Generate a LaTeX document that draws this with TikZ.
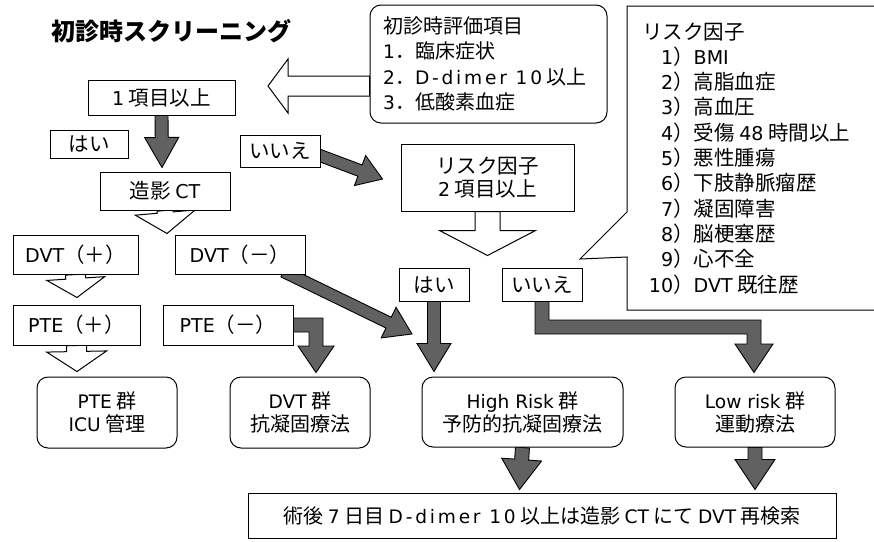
\documentclass[tikz,border=0pt]{standalone}
\usepackage{fontspec}
\setmainfont{Noto Sans CJK JP}
\newfontfamily\latfont{DejaVu Sans}[Scale=0.93]
\newfontfamily\latwide{DejaVu Sans}[Scale=0.93,LetterSpace=15]
\newcommand\la[1]{{\latfont #1}}
\newcommand\lw[1]{{\latwide #1}}
\usetikzlibrary{calc}
\pgfdeclarelayer{bg}
\pgfsetlayers{bg,main}
\newcommand\fsz[2]{\fontsize{#1}{#2}\selectfont}
% #1 style, #2 start, #3 tip, #4 shaft half width, #5 head half width, #6 head length
\newcommand\fatarrow[6][]{%
  \coordinate (fab) at ($(#3)!#6!(#2)$);
  \path[#1] ($(#2)!#4!90:(#3)$) -- ($(fab)!#4!90:(#3)$) -- ($(fab)!#5!90:(#3)$) -- (#3)
     -- ($(fab)!#5!-90:(#3)$) -- ($(fab)!#4!-90:(#3)$) -- ($(#2)!#4!-90:(#3)$) -- cycle;
}
\tikzset{
  box/.style={draw, line width=1pt, fill=white, inner sep=0pt, font=\fsz{20.5}{24}, align=center},
  rbox/.style={box, rounded corners=11pt},
  dark/.style={draw=black, line width=0.9pt, fill=black!62, line join=miter},
  hollow/.style={draw=black, line width=1pt, fill=white, line join=miter},
  ltext/.style={font=\fsz{20}{24}, inner sep=0pt, anchor=base west},
}
\begin{document}
\begin{tikzpicture}[x=1pt,y=-1pt]
\useasboundingbox (0,0) rectangle (874,541);

% title
\node[font=\fsz{24}{28}\bfseries, inner sep=0pt] (title) at (171,31) {初診時スクリーニング};

% evaluation callout
\node[rbox, minimum width=237pt, minimum height=118pt] (eval) at (488.5,64) {};
\node[ltext] (ev0) at (383,33) {初診時評価項目};
\node[ltext] (ev1) at (383,58.5) {\la{1}．臨床症状};
\node[ltext] (ev2) at (383,84) {\la{2}．\lw{D-dimer 10} 以上};
\node[ltext] (ev3) at (383,109.5) {\la{3}．低酸素血症};

% risk factor callout
\draw[line width=1pt] (874,6) -- (627,6) -- (627,212) -- (580,259) -- (627,257) -- (627,310) -- (874,310);
\node[ltext, font=\fsz{20.5}{24}] (rf0) at (642,39) {リスク因子};
\foreach \n/\t [count=\i] in {1/{\la{BMI}},2/高脂血症,3/高血圧,4/{受傷 \la{48} 時間以上},5/悪性腫瘍,6/下肢静脈瘤歴,7/凝固障害,8/脳梗塞歴,9/心不全,10/{\la{DVT} 既往歴}}{
  \node[ltext, font=\fsz{20.5}{24}] (rf\i) at (642,{39+25.3*\i}) {\makebox[31pt][r]{\la{\n}}）\t};
}

% boxes
\node[box, minimum width=147pt, minimum height=35pt] (one) at (161.5,97.5) {\la{1} 項目以上};
\node[box, minimum width=78pt, minimum height=28pt] (hai1) at (89,144) {はい};
\node[box, minimum width=80pt, minimum height=32pt] (iie1) at (280,151) {いいえ};
\node[box, minimum width=130pt, minimum height=38pt] (ct) at (165,191) {造影 \la{CT}};
\node[box, minimum width=173pt, minimum height=67pt, font=\fsz{20.5}{23}] (risk2) at (487.5,177.5) {リスク因子\\\la{2} 項目以上};
\node[box, minimum width=125pt, minimum height=39pt] (dvtp) at (75.5,254.5) {\la{DVT}（＋）};
\node[box, minimum width=130pt, minimum height=39pt] (dvtn) at (240,254.5) {\la{DVT}（－）};
\node[box, minimum width=127pt, minimum height=40pt] (ptep) at (76.5,325) {\la{PTE}（＋）};
\node[box, minimum width=130pt, minimum height=40pt] (pten) at (228,325) {\la{PTE}（－）};
\node[box, minimum width=70pt, minimum height=33pt] (hai2) at (434,284.5) {はい};
\node[box, minimum width=80pt, minimum height=33pt] (iie2) at (542,284.5) {いいえ};
\node[rbox, minimum width=140pt, minimum height=71pt, font=\fsz{20}{23}] (ptegrp) at (107,412.5) {\la{PTE} 群\\\la{ICU} 管理};
\node[rbox, minimum width=140pt, minimum height=71pt, font=\fsz{20}{23}] (dvtgrp) at (300,412.5) {\la{DVT} 群\\抗凝固療法};
\node[rbox, minimum width=201pt, minimum height=70pt, font=\fsz{20}{23}] (hrgrp) at (522.5,412) {\la{High Risk} 群\\予防的抗凝固療法};
\node[rbox, minimum width=160pt, minimum height=70pt, font=\fsz{20}{23}] (lrgrp) at (755,412) {\la{Low risk} 群\\運動療法};
\node[box, minimum width=588pt, minimum height=45pt, font=\fsz{20}{24}] (final) at (542,515.5) {術後 \la{7} 日目 \lw{D-dimer 10} 以上は造影 \la{CT} にて \la{DVT} 再検索};

% arrow end points
\coordinate (la) at (268,86);
\coordinate (a1) at ($(ct.north)+(-3,-4)$);
\coordinate (a2s) at ($(iie1.east)+(-2,4)$);
\coordinate (a2) at ($(risk2.west)+(-18,1.5)$);
\coordinate (a3) at ($(ct.south)+(2,23)$);
\coordinate (a4) at ($(dvtp.south)+(1.5,23)$);
\coordinate (a5) at ($(ptep.south)+(0.5,26)$);
\coordinate (a6s) at ($(dvtn.south east)+(-22,-3)$);
\coordinate (a6) at (412,334);
\coordinate (a8) at ($(risk2.south)+(0,44)$);
\coordinate (a9) at ($(hrgrp.north -| hai2.south)+(0,-5)$);
\coordinate (a11) at ($(final.north -| hrgrp.south)+(-3,-3)$);
\coordinate (a12) at ($(final.north -| lrgrp.south)+(0,-3)$);

\begin{pgfonlayer}{bg}
\fill[white] (0,0) rectangle (874,541);
\fatarrow[hollow]{eval.west |- la}{la}{10pt}{27pt}{20pt}
\fatarrow[dark]{one.south}{a1}{6.5pt}{17pt}{30pt}
\fatarrow[dark]{a2s}{a2}{6pt}{16pt}{24pt}
\fatarrow[hollow]{ct.south}{a3}{8pt}{30pt}{21pt}
\fatarrow[hollow]{dvtp.south}{a4}{10pt}{29pt}{19pt}
\fatarrow[hollow]{ptep.south}{a5}{10pt}{30pt}{20pt}
\fatarrow[dark]{a6s}{a6}{6pt}{17pt}{26pt}
\fatarrow[hollow]{risk2.south}{a8}{12.5pt}{48pt}{25pt}
\fatarrow[dark]{hai2.south}{a9}{6.5pt}{17pt}{28pt}
\fatarrow[dark]{hrgrp.south}{a11}{7pt}{20pt}{30pt}
\fatarrow[dark]{lrgrp.south}{a12}{7pt}{20pt}{30pt}
% elbow arrows
\path[dark] ($(pten.east)+(-2,-7)$) -- (323,318) -- (323,346) -- (334,346) -- ($(dvtgrp.north)+(16,-4)$)
  -- (298,346) -- (309,346) -- (309,332) -- ($(pten.east)+(-2,7)$) -- cycle;
\path[dark] ($(iie2.south)+(-7,-2)$) -- (535,334) -- (747,334) -- (747,344) -- (735,344)
  -- ($(lrgrp.north)+(-1,-4)$) -- (773,344) -- (761,344) -- (761,320) -- (549,320) -- ($(iie2.south)+(7,-2)$) -- cycle;
\end{pgfonlayer}
\end{tikzpicture}
\end{document}
